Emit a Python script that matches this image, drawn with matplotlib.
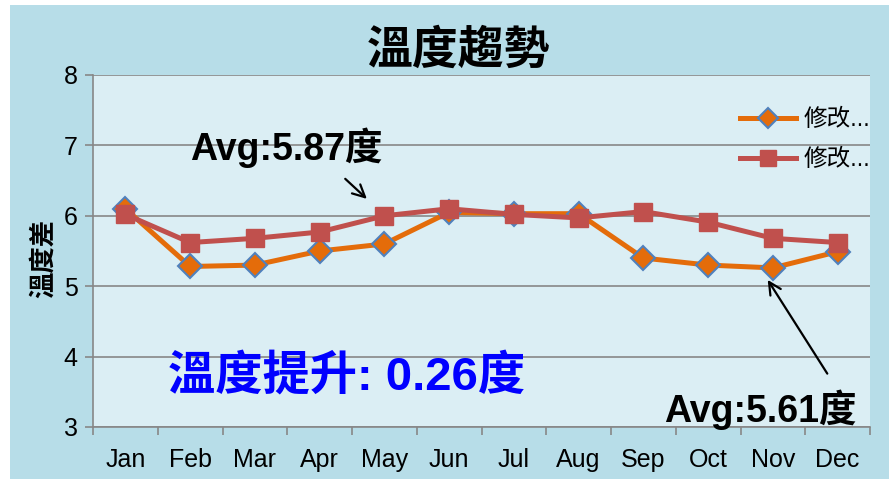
import matplotlib.pyplot as plt
import matplotlib.patches as mpatches
import numpy as np

plt.rcParams['font.family'] = ['Liberation Sans', 'Noto Sans CJK TC']

months = ['Jan', 'Feb', 'Mar', 'Apr', 'May', 'Jun', 'Jul', 'Aug', 'Sep', 'Oct', 'Nov', 'Dec']
before = [6.10, 5.28, 5.30, 5.50, 5.60, 6.05, 6.03, 6.03, 5.40, 5.30, 5.26, 5.49]
after = [6.02, 5.62, 5.68, 5.77, 6.00, 6.10, 6.02, 5.97, 6.06, 5.91, 5.68, 5.62]
series_names = ['修改...', '修改...']

avg_before = np.mean(before)
avg_after = np.mean(after)
rise = round(avg_after, 2) - round(avg_before, 2)

outer_bg = '#b7dde8'
plot_bg = '#dbeef4'
grid_c = '#878787'

fig = plt.figure(figsize=(8.89, 4.79), dpi=100, facecolor='white')
fig.patches.append(mpatches.Rectangle((10 / 889, 0), 1, 474 / 479, transform=fig.transFigure,
                                      facecolor=outer_bg, edgecolor='none', zorder=-10))
ax = fig.add_axes([93 / 889, 52 / 479, 777 / 889, 352 / 479])
ax.set_facecolor(plot_bg)

x = np.arange(len(months))
ax.plot(x, before, color='#e46c0a', lw=3.6, marker='D', ms=12,
        mfc='#e46c0a', mec='#4f81bd', mew=1.5, label=series_names[0], zorder=3)
ax.plot(x, after, color='#c0504d', lw=3.6, marker='s', ms=13,
        mfc='#c0504d', mec='#c0504d', label=series_names[1], zorder=4)

ax.set_xlim(-0.5, 11.5)
ax.set_ylim(3, 8)
ax.set_yticks(range(3, 9))
ax.yaxis.grid(True, color=grid_c, lw=1.2)
ax.set_axisbelow(True)
ax.set_xticks(x)
ax.set_xticklabels(months)
ax.set_xticks(np.arange(-0.5, 12, 1), minor=True)
ax.tick_params(axis='x', which='major', length=0, pad=15, labelsize=18)
ax.tick_params(axis='x', which='minor', length=6, width=1.2, color=grid_c, direction='out')
ax.tick_params(axis='y', length=6, width=1.2, color=grid_c, labelsize=18, pad=5)
for s in ['top', 'right']:
    ax.spines[s].set_visible(False)
for s in ['left', 'bottom']:
    ax.spines[s].set_color(grid_c)
    ax.spines[s].set_linewidth(1.2)

ax.set_ylabel('溫度差', fontsize=19, fontweight='bold')
ax.yaxis.set_label_coords(-0.048, 0.48)

fig.text(0.516, 0.895, '溫度趨勢', ha='center', va='center', fontsize=33,
         fontweight='bold', family=['Noto Sans CJK TC'])

ax.annotate(f'Avg:{avg_after:.2f}度', xy=(3.73, 6.24), xytext=(2.48, 6.96),
            ha='center', va='center', fontsize=27, fontweight='bold',
            arrowprops=dict(arrowstyle='->', color='black', lw=1.6,
                            shrinkA=8, shrinkB=0, mutation_scale=22,
                            relpos=(0.75, 0.0)))
ax.annotate(f'Avg:{avg_before:.2f}度', xy=(9.92, 5.09), xytext=(9.8, 3.24),
            ha='center', va='center', fontsize=27, fontweight='bold',
            arrowprops=dict(arrowstyle='->', color='black', lw=1.6,
                            shrinkA=0, shrinkB=0, mutation_scale=22,
                            relpos=(0.85, 1.4)))
ax.text(3.41, 3.71, f'溫度提升: {rise:.2f}度', ha='center', va='center',
        fontsize=34, fontweight='bold', color='#0000ff')

ax.legend(loc='upper left', bbox_to_anchor=(0.82, 0.93), frameon=False,
          fontsize=17, handlelength=2.4, labelspacing=0.75, handletextpad=0.3,
          borderaxespad=0, markerscale=0.85)

fig.savefig('out.png', dpi=100, facecolor=fig.get_facecolor())
